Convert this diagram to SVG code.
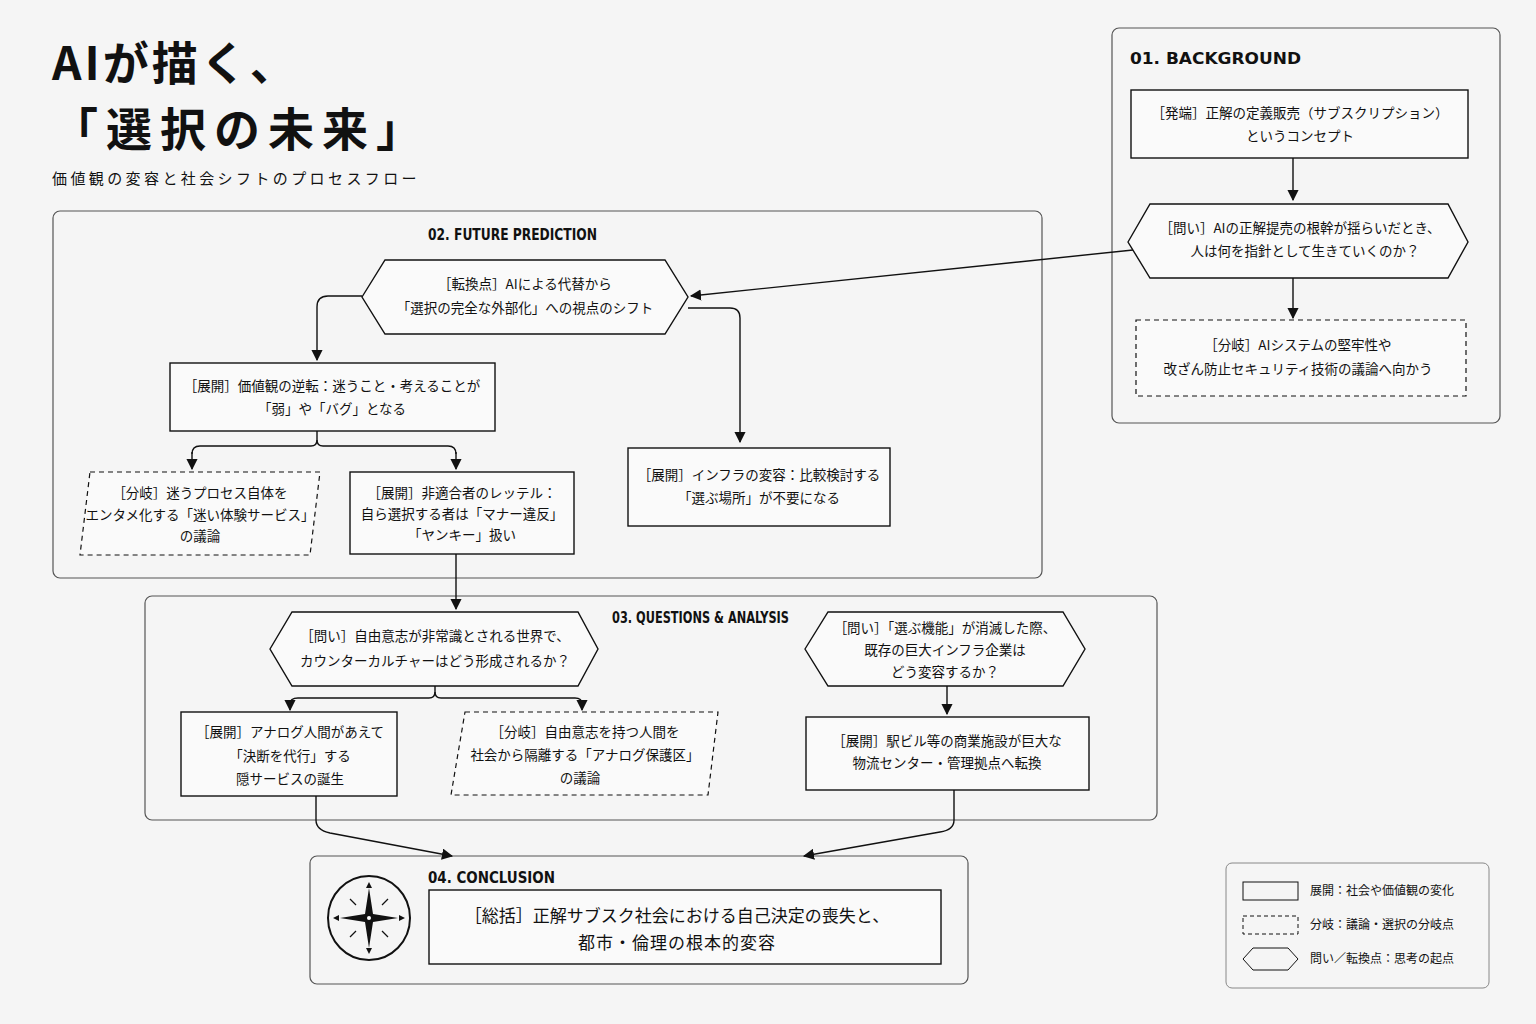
<svg xmlns="http://www.w3.org/2000/svg" width="1536" height="1024" viewBox="0 0 1536 1024">
<defs>
<marker id="ar" viewBox="0 0 10 10" refX="9" refY="5" markerWidth="8" markerHeight="8" orient="auto"><path d="M0,0 L10,5 L0,10 z" fill="#111"/></marker>
<style>
text{font-family:"Noto Sans CJK JP","Noto Sans",sans-serif;fill:#111}
.t{font-size:13.5px;text-anchor:middle}
.big{font-size:17px;text-anchor:middle}
.h{font-family:"DejaVu Sans Condensed","Noto Sans CJK JP",sans-serif;font-weight:bold;font-size:16px}
.sec{fill:none;stroke:#555;stroke-width:1.2}
.n{fill:#fafafa;stroke:#111;stroke-width:1.4}
.d{fill:#fafafa;stroke:#111;stroke-width:1.2;stroke-dasharray:5,4}
.c{fill:none;stroke:#111;stroke-width:1.4;marker-end:url(#ar)}
.l{fill:none;stroke:#111;stroke-width:1.4}
.lg{font-size:12px}
</style>
</defs>
<rect width="1536" height="1024" fill="#f5f5f5"/>
<g id="title">
<text x="52" y="80" font-size="46" font-weight="bold" letter-spacing="3">AIが描く、</text>
<text x="52" y="146" font-size="46" font-weight="bold" letter-spacing="8">「選択の未来」</text>
<text x="52" y="184" font-size="15" letter-spacing="3.4">価値観の変容と社会シフトのプロセスフロー</text>
</g>
<g id="sections">
<rect class="sec" x="1112" y="28" width="388" height="395" rx="7"/>
<text class="h" x="1130" y="64" textLength="171" lengthAdjust="spacingAndGlyphs">01. BACKGROUND</text>
<rect class="sec" x="53" y="211" width="989" height="367" rx="7"/>
<text class="h" x="428" y="240" textLength="169" lengthAdjust="spacingAndGlyphs">02. FUTURE PREDICTION</text>
<rect class="sec" x="145" y="596" width="1012" height="224" rx="7"/>
<text class="h" x="612" y="623" textLength="177" lengthAdjust="spacingAndGlyphs">03. QUESTIONS &amp; ANALYSIS</text>
<rect class="sec" x="310" y="856" width="658" height="128" rx="7"/>
<text class="h" x="428" y="883" textLength="127" lengthAdjust="spacingAndGlyphs">04. CONCLUSION</text>
</g>
<g id="connectors">
<path class="c" d="M1293,158 V200"/>
<path class="c" d="M1293,278 V318"/>
<path class="c" d="M1133,250 L691,296"/>
<path class="c" d="M362,296 H328 Q317,296 317,307 V360"/>
<path class="l" d="M317,431 V440 Q317,446 311,446 H200 Q192,446 192,454"/>
<path class="c" d="M192,452 V469"/>
<path class="l" d="M317,440 Q317,446 323,446 H448 Q456,446 456,454"/>
<path class="c" d="M456,452 V469"/>
<path class="c" d="M688,308 H730 Q740,308 740,318 V442"/>
<path class="c" d="M456,554 V609"/>
<path class="l" d="M435,686 V692 Q435,698 429,698 H298 Q290,698 290,704"/>
<path class="c" d="M290,702 V710"/>
<path class="l" d="M435,692 Q435,698 441,698 H575 Q582,698 582,704"/>
<path class="c" d="M582,702 V710"/>
<path class="c" d="M947,686 V714"/>
<path class="c" d="M316,796 V820 Q316,830 330,833 L452,856"/>
<path class="c" d="M954,790 V820 Q954,830 940,832 L804,856"/>
</g>
<g id="b1"><rect class="n" x="1131" y="90" width="337" height="68"/>
<text class="t" x="1300" y="118">［発端］正解の定義販売（サブスクリプション）</text>
<text class="t" x="1300" y="141">というコンセプト</text></g>
<g id="b2"><polygon class="n" points="1128,242 1150,204 1448,204 1468,242 1448,278 1150,278"/>
<text class="t" x="1300" y="233">［問い］AIの正解提売の根幹が揺らいだとき、</text>
<text class="t" x="1305" y="256">人は何を指針として生きていくのか？</text></g>
<g id="b3"><rect class="d" x="1136" y="320" width="330" height="76"/>
<text class="t" x="1298" y="350">［分岐］AIシステムの堅牢性や</text>
<text class="t" x="1298" y="374">改ざん防止セキュリティ技術の議論へ向かう</text></g>
<g id="f1"><polygon class="n" points="362,297 385,260 665,260 688,297 665,334 385,334"/>
<text class="t" x="525" y="289">［転換点］AIによる代替から</text>
<text class="t" x="525" y="313">「選択の完全な外部化」への視点のシフト</text></g>
<g id="f2"><rect class="n" x="170" y="363" width="325" height="68"/>
<text class="t" x="332" y="391">［展開］価値観の逆転：迷うこと・考えることが</text>
<text class="t" x="332" y="414">「弱」や「バグ」となる</text></g>
<g id="f3"><polygon class="d" points="90,472 320,472 310,555 80,555"/>
<text class="t" x="200" y="498">［分岐］迷うプロセス自体を</text>
<text class="t" x="200" y="520">エンタメ化する「迷い体験サービス」</text>
<text class="t" x="200" y="541">の議論</text></g>
<g id="f4"><rect class="n" x="350" y="472" width="224" height="82"/>
<text class="t" x="462" y="498">［展開］非適合者のレッテル：</text>
<text class="t" x="462" y="519">自ら選択する者は「マナー違反」</text>
<text class="t" x="462" y="540">「ヤンキー」扱い</text></g>
<g id="f5"><rect class="n" x="628" y="448" width="262" height="78"/>
<text class="t" x="759" y="480">［展開］インフラの変容：比較検討する</text>
<text class="t" x="759" y="503">「選ぶ場所」が不要になる</text></g>
<g id="q1"><polygon class="n" points="270,649 292,612 578,612 598,649 578,686 292,686"/>
<text class="t" x="435" y="641">［問い］自由意志が非常識とされる世界で、</text>
<text class="t" x="435" y="666">カウンターカルチャーはどう形成されるか？</text></g>
<g id="q2"><rect class="n" x="181" y="712" width="216" height="84"/>
<text class="t" x="290" y="737">［展開］アナログ人間があえて</text>
<text class="t" x="290" y="761">「決断を代行」する</text>
<text class="t" x="290" y="784">隠サービスの誕生</text></g>
<g id="q3"><polygon class="d" points="465,712 718,712 708,795 451,795"/>
<text class="t" x="585" y="737">［分岐］自由意志を持つ人間を</text>
<text class="t" x="585" y="760">社会から隔離する「アナログ保護区」</text>
<text class="t" x="580" y="783">の議論</text></g>
<g id="q4"><polygon class="n" points="805,649 828,612 1063,612 1085,649 1063,686 828,686"/>
<text class="t" x="945" y="633">［問い］「選ぶ機能」が消滅した際、</text>
<text class="t" x="945" y="655">既存の巨大インフラ企業は</text>
<text class="t" x="945" y="677">どう変容するか？</text></g>
<g id="q5"><rect class="n" x="806" y="717" width="283" height="73"/>
<text class="t" x="947" y="746">［展開］駅ビル等の商業施設が巨大な</text>
<text class="t" x="947" y="768">物流センター・管理拠点へ転換</text></g>
<g id="c1"><rect class="n" x="429" y="890" width="512" height="74"/>
<text class="big" x="677" y="922">［総括］正解サブスク社会における自己決定の喪失と、</text>
<text class="big" x="677" y="949" letter-spacing="1">都市・倫理の根本的変容</text></g>
<g id="compass">
<ellipse cx="369" cy="918" rx="41" ry="42" fill="none" stroke="#111" stroke-width="2"/>
<polygon points="369,888 373,914 398,918 373,922 369,948 365,922 340,918 365,914" fill="#111"/>
<circle cx="369" cy="918" r="2" fill="#fff"/>
<g stroke="#111" stroke-width="1.2"><line x1="356" y1="905" x2="350" y2="899"/><line x1="382" y1="905" x2="388" y2="899"/><line x1="356" y1="931" x2="350" y2="937"/><line x1="382" y1="931" x2="388" y2="937"/></g>
<g fill="#111"><polygon points="369,882 366,888 372,888"/><polygon points="369,954 366,948 372,948"/><polygon points="333,918 339,915 339,921"/><polygon points="405,918 399,915 399,921"/></g>
</g>
<g id="legend">
<rect x="1226" y="863" width="263" height="125" rx="6" fill="none" stroke="#888" stroke-width="1"/>
<rect x="1243" y="882" width="55" height="18" fill="none" stroke="#111" stroke-width="1"/>
<text class="lg" x="1310" y="895">展開：社会や価値観の変化</text>
<rect x="1243" y="916" width="55" height="18" fill="none" stroke="#111" stroke-width="1" stroke-dasharray="4,3"/>
<text class="lg" x="1310" y="929">分岐：議論・選択の分岐点</text>
<polygon points="1243,959 1253,948 1288,948 1298,959 1288,970 1253,970" fill="none" stroke="#111" stroke-width="1"/>
<text class="lg" x="1310" y="963">問い／転換点：思考の起点</text>
</g>
</svg>
